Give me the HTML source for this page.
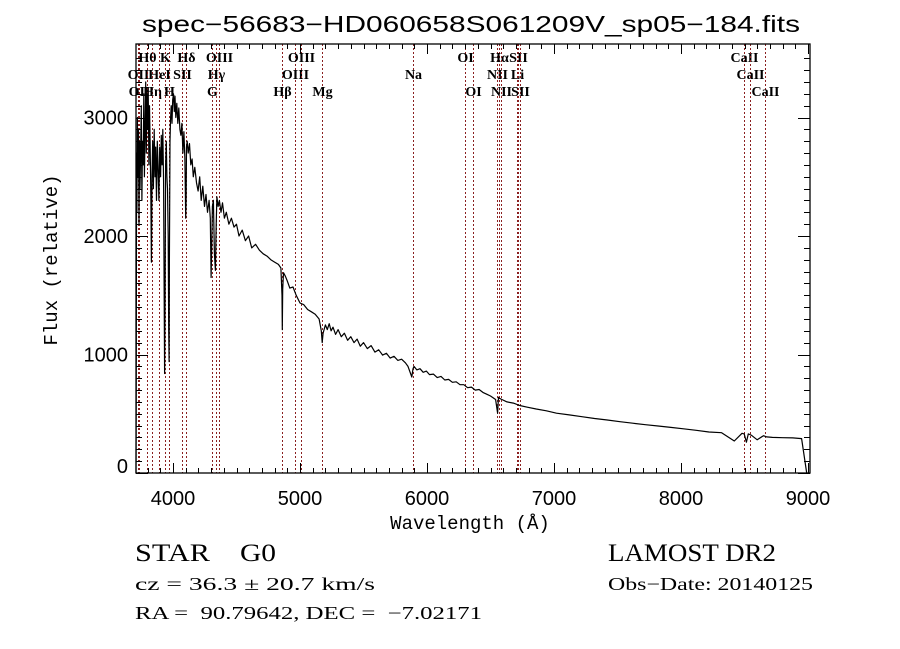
<!DOCTYPE html>
<html><head><meta charset="utf-8"><style>
html,body{margin:0;padding:0;background:#fff;}
svg{display:block;}
</style></head><body>
<svg id="chart" width="900" height="649" viewBox="0 0 900 649" xmlns="http://www.w3.org/2000/svg">
<rect width="900" height="649" fill="#fff"/>
<text x="471" y="32" text-anchor="middle" font-family="Liberation Sans, sans-serif" font-size="23" textLength="658" lengthAdjust="spacingAndGlyphs">spec−56683−HD060658S061209V_sp05−184.fits</text>
<g id="lines"></g>
<g id="series"></g>
<g id="axes"></g>
<text x="470" y="529" text-anchor="middle" font-family="Liberation Mono, monospace" font-size="19">Wavelength (Å)</text>
<text transform="translate(57,260) rotate(-90)" text-anchor="middle" font-family="Liberation Mono, monospace" font-size="19">Flux (relative)</text>
<g font-family="Liberation Serif, serif">
<text x="135" y="561" font-size="25" textLength="75" lengthAdjust="spacingAndGlyphs">STAR</text>
<text x="240" y="561" font-size="25" textLength="36" lengthAdjust="spacingAndGlyphs">G0</text>
<text x="608" y="561" font-size="25" textLength="168" lengthAdjust="spacingAndGlyphs">LAMOST DR2</text>
<text x="135" y="590" font-size="18" textLength="240" lengthAdjust="spacingAndGlyphs">cz = 36.3 ± 20.7 km/s</text>
<text x="608" y="590" font-size="18" textLength="205" lengthAdjust="spacingAndGlyphs">Obs−Date: 20140125</text>
<text x="135" y="619" font-size="18" textLength="347" lengthAdjust="spacingAndGlyphs" xml:space="preserve">RA =  90.79642, DEC =  −7.02171</text>
</g>
</svg>
<script>
const wavelengths = [3709,3710,3713,3716,3720,3724,3728,3732,3736,3740,3745,3750,3755,3760,3765,3770,3775,3780,3785,3790,3795,3800,3805,3810,3815,3820,3826,3830,3835,3840,3846,3852,3858,3864,3870,3876,3882,3889,3895,3902,3908,3914,3920,3926,3930,3934,3938,3942,3947,3952,3957,3962,3966,3969,3972,3976,3981,3986,3992,3998,4004,4010,4016,4022,4030,4038,4046,4054,4062,4070,4078,4086,4094,4100,4103,4106,4112,4120,4130,4140,4150,4160,4172,4185,4198,4210,4222,4235,4248,4260,4272,4284,4294,4300,4305,4310,4318,4326,4334,4340,4346,4355,4365,4378,4390,4405,4420,4440,4460,4480,4500,4520,4545,4570,4595,4620,4650,4680,4710,4740,4770,4800,4830,4850,4858,4861,4864,4870,4885,4900,4920,4945,4970,5000,5030,5060,5090,5120,5150,5168,5175,5182,5200,5215,5230,5245,5260,5280,5300,5325,5350,5375,5400,5425,5450,5475,5500,5530,5560,5590,5620,5650,5680,5710,5740,5770,5800,5830,5850,5880,5890,5898,5920,5945,5970,5995,6020,6050,6080,6110,6140,6170,6200,6230,6260,6290,6320,6350,6380,6410,6440,6470,6500,6540,6556,6563,6570,6590,6630,6680,6730,6790,6860,6940,7020,7120,7220,7320,7420,7520,7620,7720,7820,7920,8020,8120,8220,8320,8420,8480,8498,8515,8530,8542,8555,8600,8650,8662,8675,8720,8800,8880,8950,8990,9000,9004,9006];
const fluxValues = [0,600,2700,2200,3000,2500,2900,2100,2800,2400,2700,3100,2300,2800,2600,3200,2500,2900,3300,2700,3200,2900,3250,2600,3100,2800,2300,1780,2500,2800,2400,2900,2500,2750,2300,2800,2600,2300,2750,2500,2850,2600,2900,2450,1600,840,1500,2600,2800,2500,2400,2000,1200,940,1800,2800,3000,3100,2950,3150,3200,3050,3180,3000,3120,2950,3080,2900,2850,2950,2700,2880,2650,2150,2300,2750,2800,2700,2780,2600,2650,2500,2580,2450,2380,2500,2300,2420,2250,2350,2200,2300,2150,1650,1900,2250,2300,1850,1710,2100,2330,2250,2300,2200,2280,2150,2200,2100,2150,2075,2100,2000,2050,1960,2000,1900,1930,1880,1850,1830,1800,1780,1760,1730,1500,1210,1550,1690,1660,1620,1560,1570,1500,1435,1420,1380,1360,1340,1300,1200,1100,1180,1250,1210,1260,1200,1230,1170,1210,1150,1180,1120,1150,1100,1130,1070,1100,1050,1075,1020,1040,995,1010,970,985,950,960,930,900,810,880,900,870,880,850,860,830,835,805,815,785,790,765,770,745,745,720,725,700,705,680,665,650,620,505,640,630,620,600,590,570,555,540,525,505,490,475,460,447,433,420,408,397,385,373,360,346,340,270,335,330,260,330,325,318,280,315,310,305,300,298,296,290,0];
const lineWaves = [3727,3729,3798,3835,3889,3934,3968,4072,4102,4304,4340,4363,4861,4959,5007,5175,5893,6300,6364,6548,6563,6583,6708,6716,6731,8498,8542,8662];
const lineLabels = ["OII","OII","Hθ","Hη","HeI","K","H","SII","Hδ","G","Hγ","OIII","Hβ","OIII","OIII","Mg","Na","OI","OI","NII","Hα","NII","Li","SII","SII","CaII","CaII","CaII"];
const lineRows = [1,2,0,2,1,0,2,1,0,2,1,0,2,1,0,2,1,0,2,1,0,2,1,0,2,0,1,2];
const xTickValues = [4000,5000,6000,7000,8000,9000];
const yTickValues = [0,1000,2000,3000];

const L=136,R=810,T=44,B=473;
const xScale = w => 173 + (w-4000)*0.127;
const yScale = f => 473 - f*0.1185;
const NS="http://www.w3.org/2000/svg";
function mk(tag, attrs){const e=document.createElementNS(NS,tag);for(const k in attrs)e.setAttribute(k,attrs[k]);return e;}

const lg=document.getElementById('lines');
lineWaves.forEach((w,i)=>{
  const x=Math.round(xScale(w))+0.5;
  const ln=mk('line',{x1:x,x2:x,y1:T,y2:B,stroke:'#8b2020','stroke-width':1,'stroke-dasharray':'2,2'});
  
  
  lg.appendChild(ln);
  const t=mk('text',{x:x,y:62+lineRows[i]*17,'text-anchor':'middle','font-family':'Liberation Serif, serif','font-size':14,'font-weight':'bold'});
  t.textContent=lineLabels[i];
  
  
  lg.appendChild(t);
});

const sg=document.getElementById('series');
let d='';
wavelengths.forEach((w,i)=>{d+=(i?'L':'M')+xScale(w).toFixed(1)+','+yScale(fluxValues[i]).toFixed(1);});
const p=mk('path',{d:d,fill:'none',stroke:'#000','stroke-width':1.2,'stroke-linejoin':'round'});


sg.appendChild(p);

const ag=document.getElementById('axes');
const frame=mk('rect',{x:L,y:T,width:R-L,height:B-T,fill:'none',stroke:'#000','stroke-width':1.3});


ag.appendChild(frame);
let td='';
for(let w=3800;w<=9000;w+=100){const x=Math.round(xScale(w))+0.5;const len=(w%1000===0)?10:5;td+=`M${x},${B}v${-len}M${x},${T}v${len}`;}
for(let f=0;f<=3500;f+=100){const y=Math.round(yScale(f))+0.5;const len=(f%1000===0)?12:6;td+=`M${L},${y}h${len}M${R},${y}h${-len}`;}
const ticks=mk('path',{d:td,stroke:'#000','stroke-width':1,fill:'none'});


ag.appendChild(ticks);
xTickValues.forEach(v=>{
  const t=mk('text',{x:xScale(v),y:505,'text-anchor':'middle','font-family':'Liberation Sans, sans-serif','font-size':20});
  t.textContent=v;
  
  
  ag.appendChild(t);
});
yTickValues.forEach(v=>{
  const t=mk('text',{x:128,y:Math.min(yScale(v)+7,473),'text-anchor':'end','font-family':'Liberation Sans, sans-serif','font-size':20});
  t.textContent=v;
  
  
  ag.appendChild(t);
});
</script>
</body></html>
